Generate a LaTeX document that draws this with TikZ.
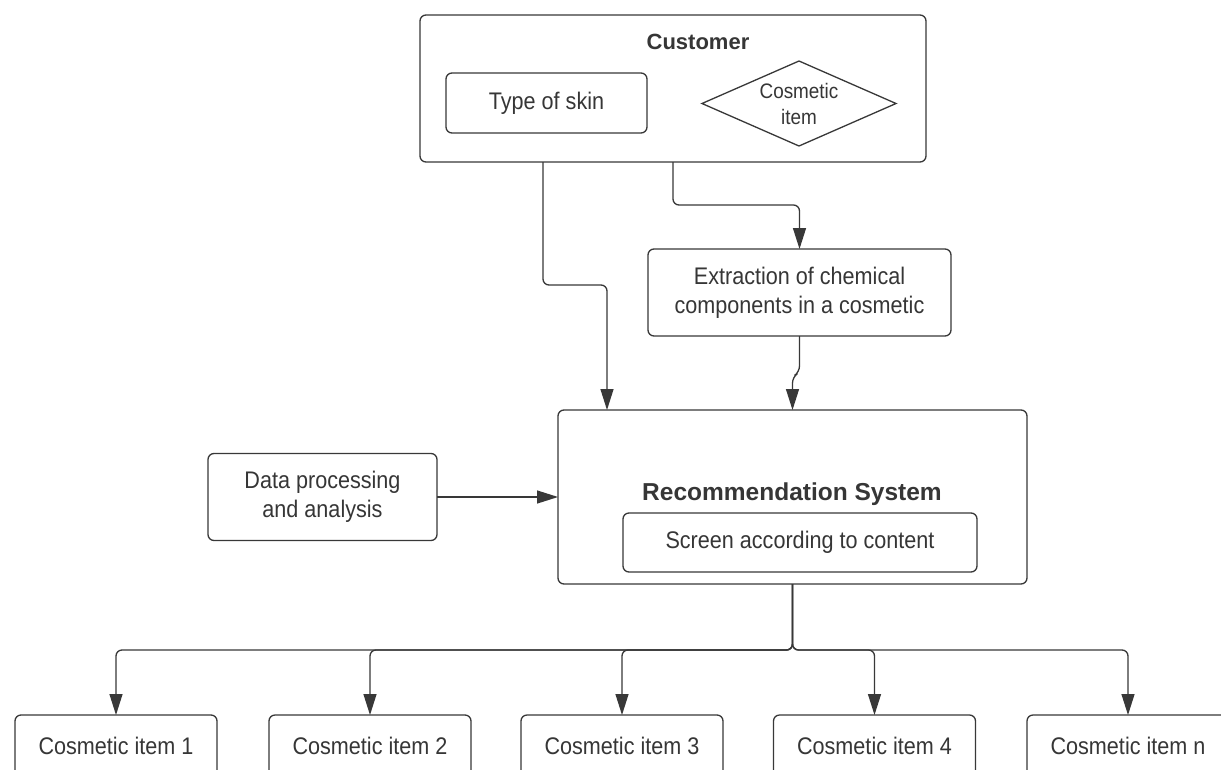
\documentclass[tikz,border=0pt]{standalone}
\usepackage{fontspec}
\setmainfont{Liberation Sans}[FakeStretch=0.9]
\newfontfamily\headfont{Liberation Sans}
\usetikzlibrary{shapes.geometric,arrows.meta,calc}
\definecolor{ln}{HTML}{383838}
\definecolor{tx}{HTML}{363636}
\tikzset{
  box/.style={draw=ln, line width=1.3pt, rounded corners=6pt, inner sep=0pt, outer sep=0pt, text=tx, align=center, font=\fontsize{24}{29}\selectfont},
  arr/.style={draw=ln, line width=1.3pt, rounded corners=6pt, -{Triangle[length=21pt,width=13pt]}},
  itembox/.style={box, minimum width=202pt, minimum height=62pt}
}
\begin{document}
\begin{tikzpicture}[x=1pt,y=-1pt]
\useasboundingbox (0,0) rectangle (1221,769);
\clip (0,0) rectangle (1221,769);
\fill[white] (0,0) rectangle (1221,769);
% customer
\node[box, minimum width=506pt, minimum height=147pt] (cust) at (673,88.5) {};
\node[text=tx, font=\headfont\bfseries\fontsize{22}{26}\selectfont] (custt) at (698,42) {Customer};
\node[box, minimum width=201pt, minimum height=60pt] (skin) at (546.5,103) {Type of skin};
\node[draw=ln, line width=1.3pt, diamond, minimum width=194pt, minimum height=85pt, inner sep=0pt, outer sep=0pt] (dia) at (799,103.5) {};
\node[text=tx, align=center, font=\fontsize{21}{26}\selectfont] (diat) at (dia.center) {Cosmetic\\item};
% extraction
\node[box, minimum width=303pt, minimum height=87pt] (ext) at (799.5,292.5) {Extraction of chemical\\components in a cosmetic};
% recommendation
\node[box, minimum width=469pt, minimum height=174pt] (rec) at (792.5,497) {};
\node[text=tx, font=\headfont\bfseries\fontsize{24.5}{28}\selectfont] (rect) at (792,494) {Recommendation System};
\node[box, minimum width=354pt, minimum height=59pt] (scr) at (800,542.5) {Screen according to content};
% data
\node[box, minimum width=229pt, minimum height=87pt] (data) at (322.5,497) {Data processing\\and analysis};
% items
\node[itembox] (i1) at (116,746) {Cosmetic item 1};
\node[itembox] (i2) at (370,746) {Cosmetic item 2};
\node[itembox] (i3) at (622,746) {Cosmetic item 3};
\node[itembox] (i4) at (874.5,746) {Cosmetic item 4};
\node[itembox] (i5) at (1128,746) {Cosmetic item n};
% connectors
\coordinate (c1) at ($(cust.south)+(-130,0)$);
\coordinate (r1) at ($(rec.north)+(-185.5,0)$);
\draw[arr] (c1) -- ++(0,123) -| (r1);
\draw[arr] (cust.south) -- ++(0,43) -| (ext.north);
\draw[arr] (ext.south) -- ++(0,36) -- ++(-7,5) -- (rec.north);
\draw[arr] (data.east) -- (rec.west);
\foreach \n in {i1,i2,i3,i4,i5}{
  \draw[arr] (rec.south) -- ++(0,66) -| (\n.north);
}
\end{tikzpicture}
\end{document}
